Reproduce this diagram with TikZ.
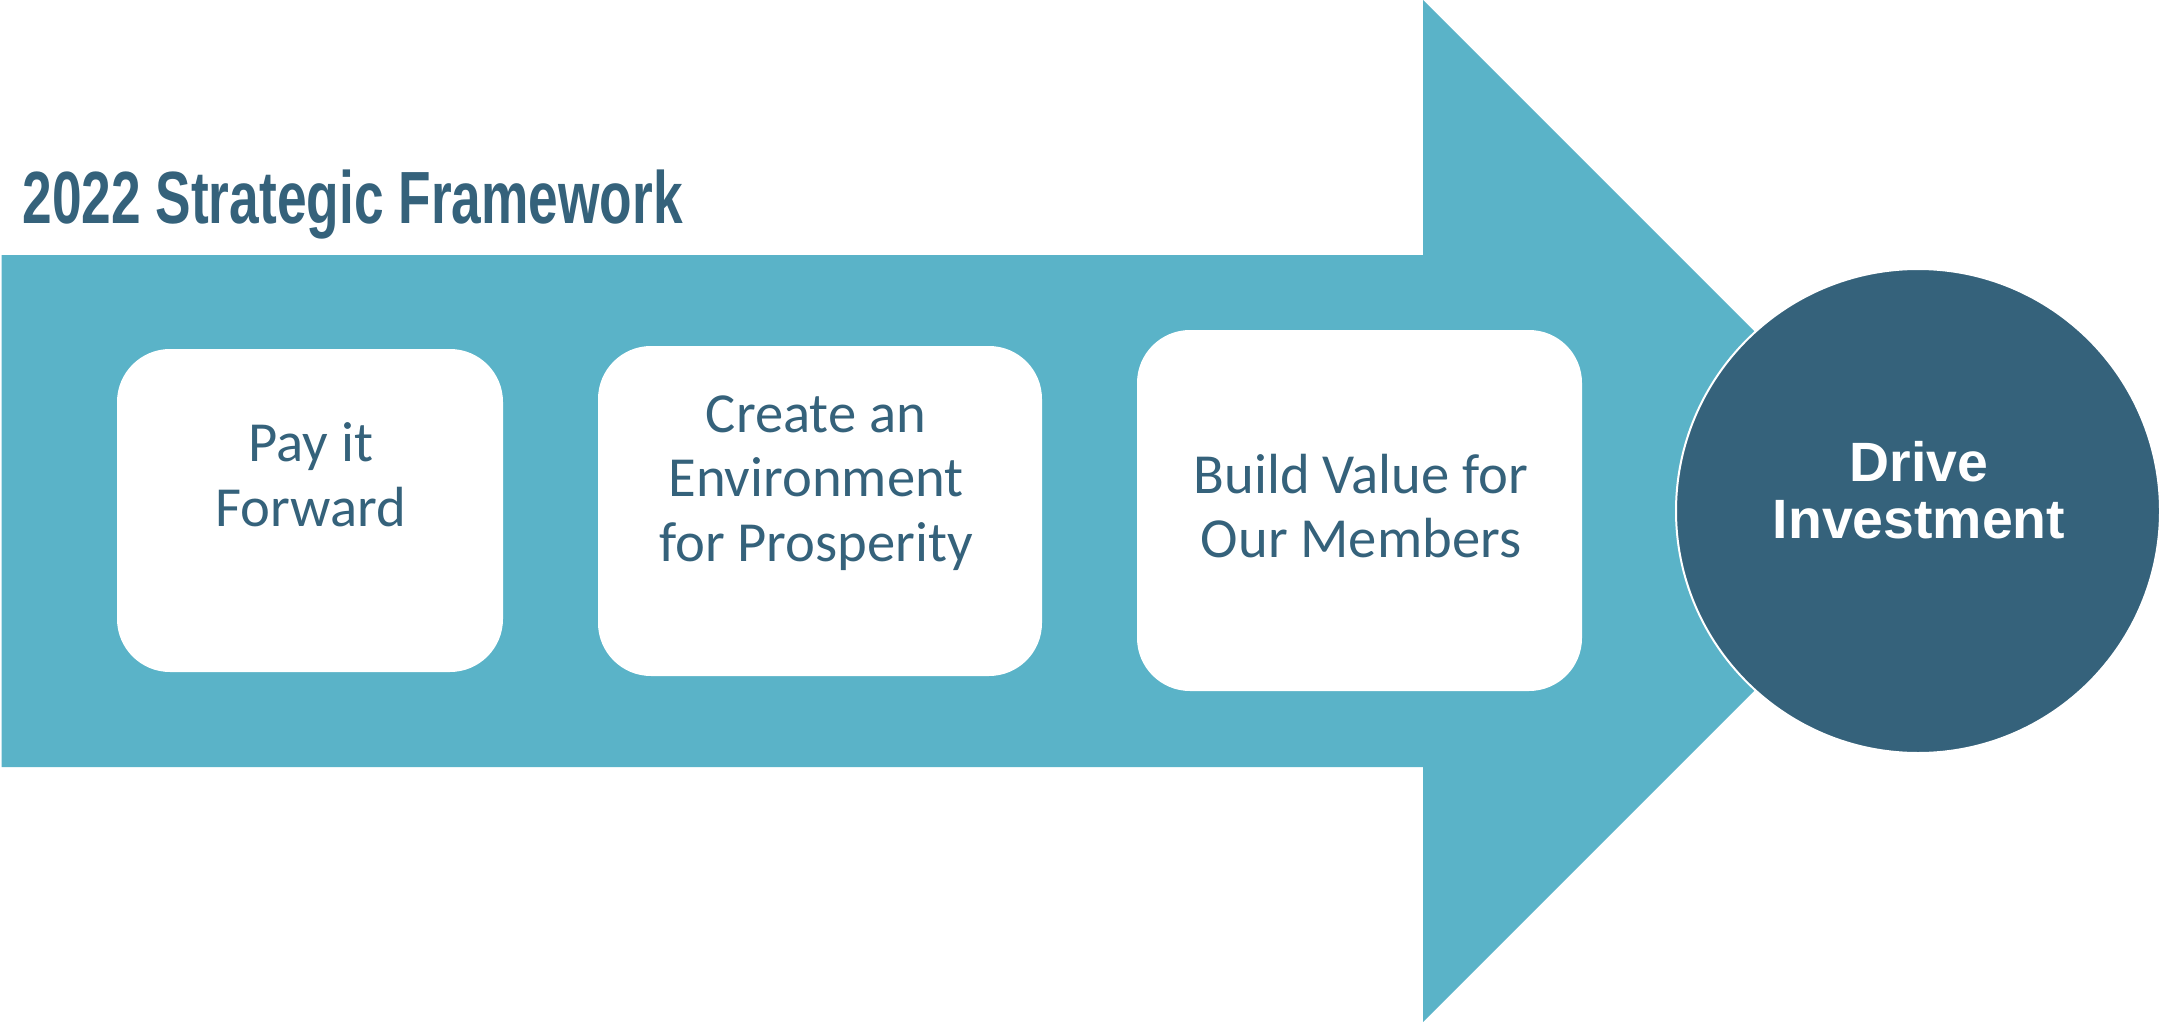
\documentclass[tikz,border=0pt]{standalone}
\usepackage{fontspec}
\setmainfont{Carlito}
\newfontfamily\headfont[FakeStretch=0.72]{Liberation Sans}
\newfontfamily\circfont{Liberation Sans}
\usetikzlibrary{positioning}
\definecolor{arrowblue}{HTML}{5AB3C8}
\definecolor{deepblue}{HTML}{35627B}
\tikzset{
  goalbox/.style={fill=white,rounded corners=26.5pt,inner sep=0pt},
  goaltext/.style={text=deepblue,align=center,inner sep=0pt,font=\fontsize{28.3}{32.3}\selectfont},
}
\begin{document}
\begin{tikzpicture}[x=0.5pt,y=-0.5pt]
\useasboundingbox (0,0) rectangle (2159,1022);
\pgfmathsetmacro{\hx}{1423}
\pgfmathsetmacro{\hw}{511}
%big arrow, body then head
\fill[arrowblue](1.5,255)--(\hx,255)--(\hx,0)--++(\hw,\hw)--++(-\hw,\hw)--(\hx,767)--(1.5,767)--cycle;
%title
\node[anchor=base west,inner sep=0pt,text=deepblue,font=\headfont\bfseries\fontsize{37}{40}\selectfont] (title) at (22,223) {2022 Strategic Framework};
%three goal boxes
\node[goalbox,minimum width=193pt,minimum height=161.5pt] (pay) at (310,510.5) {};
\node[goalbox,minimum width=222pt,minimum height=165pt] (env) at (820,511) {};
\node[goalbox,minimum width=222.5pt,minimum height=180.5pt] (build) at (1359.5,510.5) {};
\node[goaltext] (paytext) at (311,475) {Pay it\\Forward};
\node[goaltext] (envtext) at (816,483) {Create an\\Environment\\for Prosperity};
\node[goaltext] (buildtext) at (1361,506) {Build Value for\\Our Members};
%end circle
\node[circle,fill=deepblue,draw=white,line width=1pt,minimum size=242pt,inner sep=0pt] (drive) at (1918,511) {};
\node[text=white,align=center,inner sep=0pt,font=\circfont\bfseries\fontsize{27.7}{28.5}\selectfont] (drivetext) at (1919,490) {Drive\\Investment};
\end{tikzpicture}
\end{document}
